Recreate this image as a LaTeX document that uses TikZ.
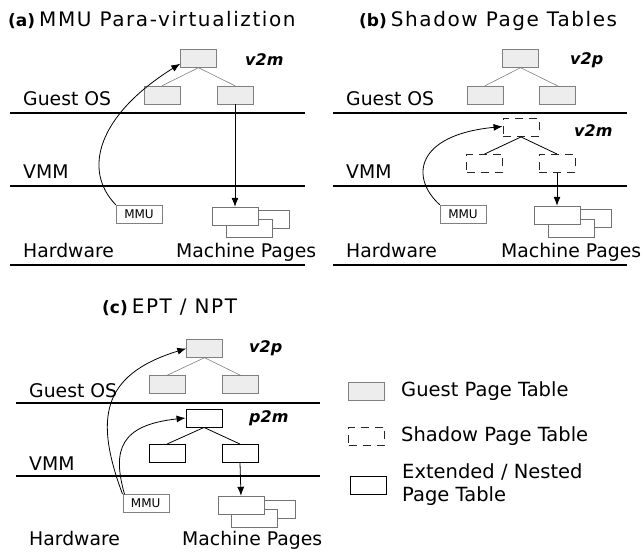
\documentclass[tikz,border=0pt]{standalone}
\usepackage{fontspec}
\setmainfont{DejaVu Sans}
\newfontfamily\titlefont[LetterSpace=8]{DejaVu Sans}
\usetikzlibrary{arrows.meta}

\begin{document}
\begin{tikzpicture}[x=1pt,y=-1pt,
        tbl/.style={draw, minimum width=36pt, minimum height=18pt, inner sep=0pt},
        gpt/.style={tbl, draw=black!50, fill=black!7},
        spt/.style={tbl, draw=black!85, line width=0.9pt, dash pattern=on 8pt off 6pt},
        ept/.style={tbl, line width=0.9pt},
        mmu/.style={draw=black!50, minimum width=46pt, minimum height=18pt, inner sep=0pt, font=\fontsize{12}{12}\selectfont},
        page/.style={draw=black!55, fill=white, minimum width=46pt, minimum height=18pt, inner sep=0pt},
        title/.style={anchor=base west, inner sep=0pt, font=\fontsize{20}{24}\selectfont},
        lbl/.style={anchor=base west, inner sep=0pt, font=\fontsize{18.8}{22}\selectfont},
        key/.style={anchor=west, inner sep=0pt, align=left, font=\fontsize{19.5}{23}\selectfont},
        tag/.style={anchor=west, inner sep=0pt, font=\fontsize{16}{16}\selectfont\bfseries\itshape},
        layer/.style={line width=1.6pt},
        gline/.style={draw=black!50, line width=0.6pt},
        kline/.style={line width=0.8pt},
        map/.style={-{Latex[length=9pt,width=7pt]}, line width=0.8pt}]
    \useasboundingbox (0,0) rectangle (644,553);

    % (a) MMU para-virtualization
    \node[title] (ta) at (8,27) {{\bfseries\fontsize{17}{17}\selectfont (a)}\hspace{4pt}{\titlefont MMU Para-virtualiztion}};
    \node[gpt] (a-root) at (198.5,58.5) {};
    \node[gpt] (a-left) at (162,95) {};
    \node[gpt] (a-right) at (235,95) {};
    \node[tag] (a-tag) at (245,60) {v2m};
    \draw[gline] (a-root.south)--(a-left.north);
    \draw[gline] (a-root.south)--(a-right.north);
    \node[lbl] (a-guest) at (23,106) {Guest OS};
    \draw[layer] (10,113)--(305,113);
    \node[lbl] (a-vmm) at (23,179) {VMM};
    \draw[layer] (10,186)--(305,186);
    \node[mmu] (a-mmu) at (139,214) {MMU};
    \node[page] (a-pg2) at (266,219) {};
    \node[page] (a-pg3) at (249,228.5) {};
    \node[page] (a-pg1) at (235,216) {};
    \node[lbl] (a-hw) at (23,257) {Hardware};
    \node[lbl] (a-mp) at (176,257) {Machine Pages};
    \draw[layer] (10,265)--(305,265);
    \draw[map] (a-mmu.north west) .. controls (82,170) and (98,115) .. ([yshift=4pt]a-root.south west);
    \draw[map] (a-right.south)--(a-pg1.north);

    % (b) shadow page tables
    \node[title] (tb) at (359,27) {{\bfseries\fontsize{17}{17}\selectfont (b)}\hspace{4pt}{\titlefont Shadow Page Tables}};
    \node[gpt] (b-root) at (520.5,58.5) {};
    \node[gpt] (b-left) at (485,95) {};
    \node[gpt] (b-right) at (557.5,95) {};
    \node[tag] (b-tag) at (570,60) {v2p};
    \draw[gline] (b-root.south)--(b-left.north);
    \draw[gline] (b-root.south)--(b-right.north);
    \node[lbl] (b-guest) at (346,106) {Guest OS};
    \draw[layer] (333,113)--(627,113);
    \node[spt] (b-sroot) at (521,127.5) {};
    \node[spt] (b-sleft) at (484.5,163.5) {};
    \node[spt] (b-sright) at (557,163.5) {};
    \node[tag] (b-stag) at (574,131) {v2m};
    \draw[kline] (b-sroot.south)--(b-sleft.north);
    \draw[kline] (b-sroot.south)--(b-sright.north);
    \node[lbl] (b-vmm) at (346,179) {VMM};
    \draw[layer] (333,186)--(627,186);
    \node[mmu] (b-mmu) at (463,214) {MMU};
    \node[page] (b-pg2) at (588,218) {};
    \node[page] (b-pg3) at (571,228) {};
    \node[page] (b-pg1) at (557,215) {};
    \node[lbl] (b-hw) at (346,257) {Hardware};
    \node[lbl] (b-mp) at (501,257) {Machine Pages};
    \draw[layer] (333,265)--(627,265);
    \draw[map] (b-mmu.north west) .. controls (410,178) and (415,135) .. ([yshift=1pt]b-sroot.west);
    \draw[map] (b-sright.south)--(b-pg1.north);

    % (c) EPT / NPT
    \node[title] (tc) at (102,313) {{\bfseries\fontsize{17}{17}\selectfont (c)}\hspace{4pt}{\titlefont EPT / NPT}};
    \node[gpt] (c-root) at (204.5,348.5) {};
    \node[gpt] (c-left) at (167,384.5) {};
    \node[gpt] (c-right) at (240.5,384.5) {};
    \node[tag] (c-tag) at (249,348) {v2p};
    \draw[gline] (c-root.south)--(c-left.north);
    \draw[gline] (c-root.south)--(c-right.north);
    \node[lbl] (c-guest) at (29,397) {Guest OS};
    \draw[layer] (16,403)--(320,403);
    \node[ept] (c-nroot) at (204,418) {};
    \node[ept] (c-nleft) at (167,453.5) {};
    \node[ept] (c-nright) at (240,453.5) {};
    \node[tag] (c-ntag) at (249,418) {p2m};
    \draw[kline] (c-nroot.south)--(c-nleft.north);
    \draw[kline] (c-nroot.south)--(c-nright.north);
    \node[lbl] (c-vmm) at (29,470) {VMM};
    \draw[layer] (16,476)--(320,476);
    \node[mmu] (c-mmu) at (145.7,503.3) {MMU};
    \node[page] (c-pg2) at (272.5,508.8) {};
    \node[page] (c-pg3) at (254.5,517.8) {};
    \node[page] (c-pg1) at (241,505) {};
    \node[lbl] (c-hw) at (29,545) {Hardware};
    \node[lbl] (c-mp) at (182,545) {Machine Pages};
    \draw[map] (c-mmu.north west) .. controls (95,420) and (100,375) .. (c-root.west);
    \draw[map] ([xshift=2pt]c-mmu.north west) .. controls (112,450) and (120,425) .. (c-nroot.west);
    \draw[map] (c-nright.south)--(c-pg1.north);

    % legend
    \node[gpt] (k-gpt) at (366.5,391) {};
    \node[key] (k-gtxt) at (401,391) {Guest Page Table};
    \node[spt] (k-spt) at (366.5,436) {};
    \node[key] (k-stxt) at (401,436) {Shadow Page Table};
    \node[ept] (k-ept) at (368,485.5) {};
    \node[key] (k-etxt) at (402,485) {Extended / Nested\\Page Table};
\end{tikzpicture}
\end{document}
